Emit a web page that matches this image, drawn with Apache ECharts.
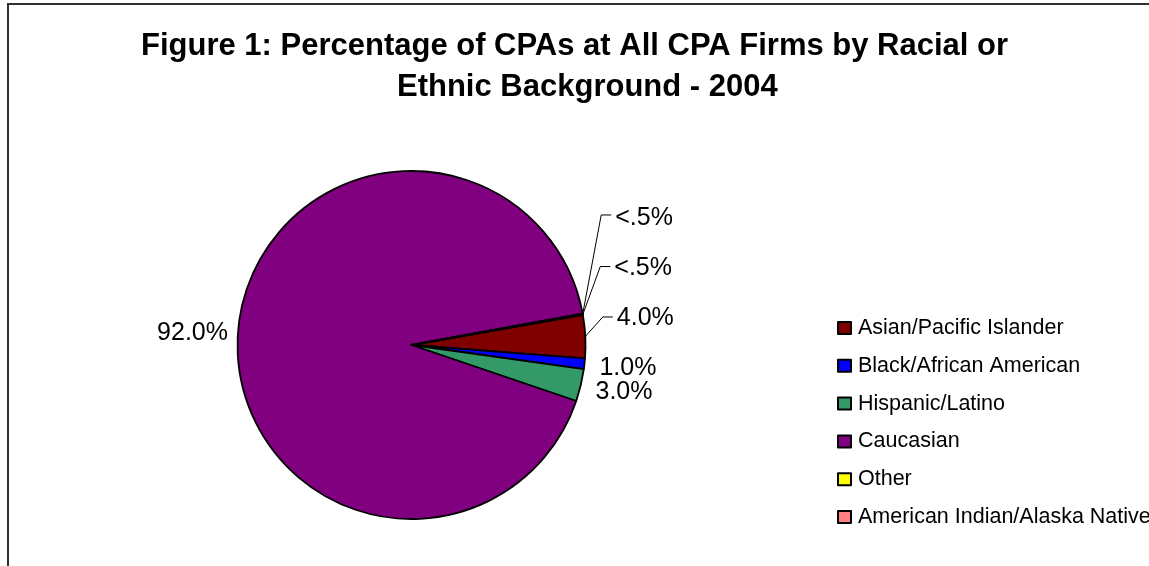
<!DOCTYPE html>
<html>
<head>
<meta charset="utf-8">
<script src="https://cdn.jsdelivr.net/npm/echarts@6/dist/echarts.min.js"></script>
<style>
  html, body { margin: 0; padding: 0; background: #ffffff; }
  #chart { width: 1149px; height: 566px; }
</style>
</head>
<body>
<div id="chart"></div>
<script>
// ---- data ----
const categories = ['Asian/Pacific Islander', 'Black/African American', 'Hispanic/Latino', 'Caucasian', 'Other', 'American Indian/Alaska Native'];
const values = [4.0, 1.0, 3.0, 92.0, 0.05, 0.05];
const titleLines = ['Figure 1: Percentage of CPAs at All CPA Firms by Racial or', 'Ethnic Background - 2004'];

// ---- styles ----
const sliceColors = ['#800000', '#0000ff', '#339966', '#800080', '#ffff00', '#ff8080'];
const FONT = 'Liberation Sans, Arial, sans-serif';
// leader-line label placement relative to the slice edge point: [bend dx, bend dy, text dy]
const leaderBend = { 0: [17.5, -19.5, 1], 4: [18.5, -99, 3], 5: [17.5, -48, 2] };
// small nudges of the plain outside labels (dx, dy)
const labelNudge = { 1: [0, 3], 2: [0, 5], 3: [5, 2] };
const showLeader = [true, false, false, false, true, true];

function fmtPct(v) { return v < 0.5 ? '<.5%' : v.toFixed(1) + '%'; }

const chart = echarts.init(document.getElementById('chart'), null, { renderer: 'canvas' });

const seriesData = categories.map(function (name, i) {
  return {
    name: name,
    value: values[i],
    itemStyle: { color: sliceColors[i] },
    labelLine: { show: showLeader[i] }
  };
});

const titleStyle = { fontFamily: FONT, fontSize: 31, fontWeight: 'bold', color: '#000000', lineHeight: 41 };

chart.setOption({
  animation: false,
  backgroundColor: '#ffffff',
  title: [{
    text: titleLines[0],
    left: 'center',
    top: 21,
    padding: [5, 10, 5, 5],
    textStyle: titleStyle
  }, {
    text: titleLines[1],
    left: 392,
    top: 62,
    padding: 5,
    textStyle: titleStyle
  }],
  legend: {
    orient: 'vertical',
    left: 837,
    top: 317,
    padding: 0,
    itemWidth: 13,
    itemHeight: 12,
    itemGap: 15.8,
    icon: 'rect',
    selectedMode: false,
    data: categories,
    textStyle: { fontFamily: FONT, fontSize: 21.5, color: '#000000', lineHeight: 21, padding: [0, 0, 0, 2] }
  },
  graphic: [{
    type: 'rect',
    silent: true,
    shape: { x: 8, y: 4, width: 1400, height: 800 },
    style: { fill: 'none', stroke: '#303030', lineWidth: 2 }
  }],
  series: [{
    type: 'pie',
    center: [411.5, 345],
    radius: 174,
    startAngle: 10,
    clockwise: true,
    avoidLabelOverlap: false,
    minAngle: 0,
    itemStyle: { borderColor: '#000000', borderWidth: 1.8 },
    emphasis: { disabled: true },
    label: {
      show: true,
      position: 'outside',
      fontFamily: FONT,
      fontSize: 25,
      color: '#000000',
      distanceToLabelLine: 5,
      formatter: function (p) { return fmtPct(p.value); }
    },
    labelLine: {
      show: true,
      length: 10,
      length2: 0,
      lineStyle: { color: '#000000', width: 1 }
    },
    labelLayout: function (p) {
      const i = p.dataIndex;
      const b = leaderBend[i];
      if (b && p.labelLinePoints) {
        const p0 = p.labelLinePoints[0];
        const bx = p0[0] + b[0], by = p0[1] + b[1];
        return {
          x: bx + 14,
          y: by + b[2],
          align: 'left',
          verticalAlign: 'middle',
          labelLinePoints: [[p0[0], p0[1]], [bx, by], [bx + 10, by]]
        };
      }
      const n = labelNudge[i];
      if (n) {
        const r = p.labelRect;
        const right = p.align === 'right';
        return {
          x: (right ? r.x + r.width : r.x) + n[0],
          y: r.y + r.height / 2 + n[1],
          align: right ? 'right' : 'left',
          verticalAlign: 'middle'
        };
      }
      return {};
    },
    data: seriesData
  }]
});
</script>
</body>
</html>
